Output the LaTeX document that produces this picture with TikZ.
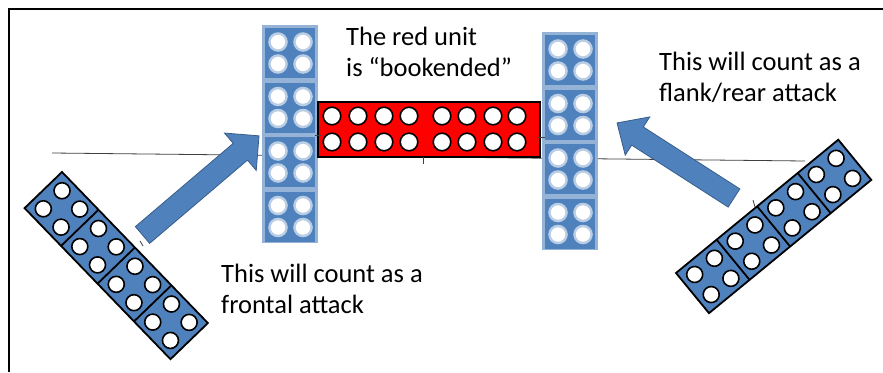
\documentclass[tikz,border=0pt]{standalone}
\usepackage{fontspec}
\setmainfont{Carlito}
\definecolor{blk}{HTML}{4F81BD}
\definecolor{blkline}{HTML}{385D8A}
\definecolor{bklight}{HTML}{95B3D7}
\definecolor{studhalo}{HTML}{B9CDE5}
\tikzset{
  lbl/.style={anchor=base west, inner sep=0pt, font=\fontsize{26.5}{31}\selectfont},
  trayline/.style={line width=1.8pt, black},
  stud/.style={line width=1.6pt, draw=black, fill=white},
  blockarrow/.style={fill=blk, draw=blkline, line width=0.8pt},
  thin/.style={line width=0.8pt, black!75},
  bookend/.pic={
    \fill[bklight] (0,0) rectangle (56,218);
    \foreach \k in {0,...,3} {
      \fill[blk] (3,{3+54.5*\k}) rectangle (53,{54.5*(\k+1)-1.5});
      \foreach \sx in {16,41} \foreach \sy in {17,39} {
        \fill[studhalo] (\sx,{54.5*\k+\sy}) circle (9.8);
        \fill[white] (\sx,{54.5*\k+\sy}) circle (7.2);
      }
    }
  },
  tray/.pic={
    \draw[trayline, fill=blk] (0,0) rectangle (210,52);
    \foreach \k in {1,2,3} \draw[trayline] ({52.5*\k},0) -- ({52.5*\k},52);
    \foreach \k in {0,...,3} \foreach \sx in {13.5,39} \foreach \sy in {13,39}
      \draw[stud] ({52.5*\k+\sx},\sy) circle (8);
  }
}
\begin{document}
\begin{tikzpicture}[x=1pt,y=-1pt]
\useasboundingbox (0,0) rectangle (883,372);
\fill[white] (0,0) rectangle (883,372);
% frame
\draw[line width=2pt] (9,372) -- (9,9) -- (883,9);
% base line
\coordinate (bl1) at (52,153);
\coordinate (bl2) at (805,161);
\draw[thin] (bl1) -- (bl2);
% bookends
\pic at (262,25) {bookend};
\pic at (542,32) {bookend};
% red unit
\draw[line width=1.8pt, fill=red] (318,102) rectangle (540,157);
\foreach \x in {332,358,384,409,442,467,493,517}
  \foreach \y in {116,142}
    \draw[stud] (\x,\y) circle (8.8);
% small ticks
\draw[thin] (423,157) -- (423,164);
\draw[thin] (315,135) -- (321,135);
\draw[thin] (537,137) -- (545,137);
\draw[thin] (140,241) -- (143,246);
\draw[thin] (753,200) -- (755,207);
% trays
\pic[transform shape, rotate=-46] at (62,172) {tray};
\pic[transform shape, rotate=39.4] at (676,273) {tray};
% arrows
\begin{scope}[shift={(142.5,235)}, rotate=40.4]
  \draw[blockarrow] (0,-11) -- (128.5,-11) -- (128.5,-24.5) -- (153,0) -- (128.5,24.5) -- (128.5,11) -- (0,11) -- cycle;
\end{scope}
\begin{scope}[shift={(734,198)}, rotate=147.3]
  \draw[blockarrow] (0,-10.8) -- (114.7,-10.8) -- (114.7,-22.7) -- (139,0) -- (114.7,22.7) -- (114.7,10.8) -- (0,10.8) -- cycle;
\end{scope}
% texts
\node[lbl] (t1a) at (346,45) {The red unit};
\node[lbl] (t1b) at (346,76) {is “bookended”};
\node[lbl] (t2a) at (659,70) {This will count as a};
\node[lbl] (t2b) at (659,101) {flank/rear attack};
\node[lbl] (t3a) at (221,282) {This will count as a};
\node[lbl] (t3b) at (221,313) {frontal attack};
\end{tikzpicture}
\end{document}
